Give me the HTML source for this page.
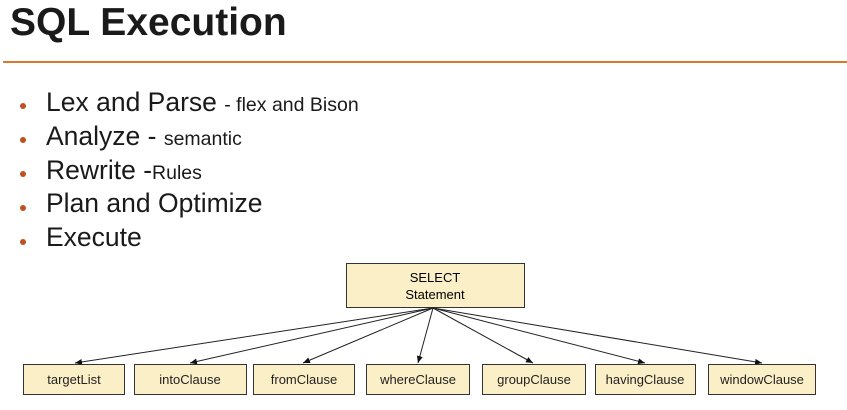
<!DOCTYPE html>
<html><head><style>
body{margin:0;width:847px;height:410px;background:#fff;position:relative;overflow:hidden;font-family:"Liberation Sans",sans-serif;color:#222}
.t{position:absolute;left:10px;top:1px;font-size:39px;font-weight:bold;color:#1a1a1a}
.hr{position:absolute;left:3px;top:61px;width:844px;height:2px;background:#d9782f}
.b{position:absolute;left:46px;font-size:26.5px;color:#1a1a1a;white-space:nowrap}
.b small{font-size:19.5px}
.d{position:absolute;left:20px;width:6px;height:6px;border-radius:3px;background:#c0501f}
</style></head><body>
<div class="t">SQL Execution</div>
<div class="hr"></div>
<div class="d" style="top:103px"></div><div class="b" style="top:87px">Lex and Parse <small>- flex and Bison</small></div>
<div class="d" style="top:137px"></div><div class="b" style="top:121px">Analyze - <small>semantic</small></div>
<div class="d" style="top:171px"></div><div class="b" style="top:155px">Rewrite -<small>Rules</small></div>
<div class="d" style="top:205px"></div><div class="b" style="top:188px">Plan and Optimize</div>
<div class="d" style="top:239px"></div><div class="b" style="top:222px">Execute</div>
<svg width="847" height="410" style="position:absolute;left:0;top:0" font-family="Liberation Sans, sans-serif" font-size="13">
<defs><marker id="a" markerWidth="8" markerHeight="8" refX="7" refY="4" orient="auto"><path d="M0,1 L7,4 L0,7z" fill="#111"/></marker></defs>
<rect x="346.5" y="263.5" width="178" height="44" fill="#fbefc8" stroke="#333"/>
<text x="435" y="282" text-anchor="middle">SELECT</text>
<text x="435" y="299" text-anchor="middle">Statement</text>
<g stroke="#222" stroke-width="1" marker-end="url(#a)">
<line x1="433" y1="308" x2="75" y2="363"/>
<line x1="433" y1="308" x2="190" y2="363"/>
<line x1="433" y1="308" x2="303" y2="363"/>
<line x1="433" y1="308" x2="418" y2="363"/>
<line x1="433" y1="308" x2="533" y2="363"/>
<line x1="433" y1="308" x2="645" y2="363"/>
<line x1="433" y1="308" x2="762" y2="363"/>
</g>
<g fill="#fbefc8" stroke="#333">
<rect x="23.5" y="364.5" width="101" height="30"/>
<rect x="134.5" y="364.5" width="112" height="30"/>
<rect x="253.5" y="364.5" width="101" height="30"/>
<rect x="366.5" y="364.5" width="103" height="30"/>
<rect x="482.5" y="364.5" width="103" height="30"/>
<rect x="595.5" y="364.5" width="100" height="30"/>
<rect x="708.5" y="364.5" width="107" height="30"/>
</g>
<g text-anchor="middle" fill="#222">
<text x="74" y="384">targetList</text>
<text x="190" y="384">intoClause</text>
<text x="304" y="384">fromClause</text>
<text x="418" y="384">whereClause</text>
<text x="534" y="384">groupClause</text>
<text x="645" y="384">havingClause</text>
<text x="762" y="384">windowClause</text>
</g>
</svg>
</body></html>
